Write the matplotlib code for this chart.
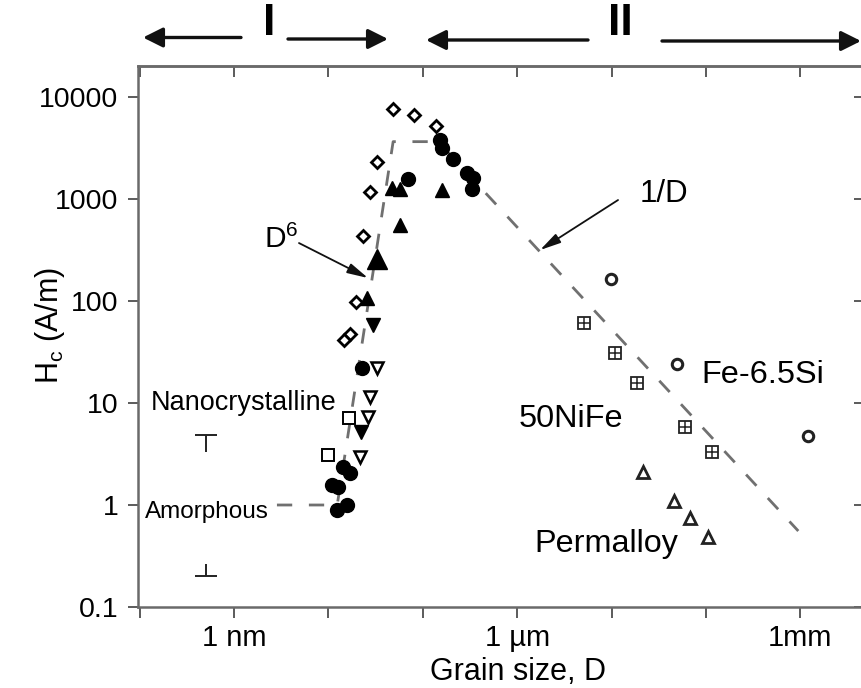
import matplotlib
matplotlib.use('Agg')
import matplotlib.pyplot as plt
from matplotlib.ticker import FixedLocator, NullLocator, FixedFormatter, NullFormatter

plt.rcParams['font.family'] = ['Liberation Sans', 'DejaVu Sans']
plt.rcParams['mathtext.fontset'] = 'custom'
plt.rcParams['mathtext.rm'] = 'Liberation Sans'
plt.rcParams['mathtext.it'] = 'Liberation Sans:italic'
plt.rcParams['mathtext.bf'] = 'Liberation Sans:bold'
plt.rcParams['lines.scale_dashes'] = False

# ---------------- data: grain size D (nm), coercivity Hc (A/m) ----------------
diamond_D = [48.7, 81.3, 138, 32.5, 27.6, 23.4, 19.5, 16.9, 14.6]
diamond_Hc = [7570, 6660, 5200, 2320, 1180, 434, 98.5, 47.5, 41.5]

ftri_D = [47.2, 57.3, 158.6, 57.3, 25.5]
ftri_Hc = [1274, 1240, 1225, 556, 106]
bigtri_D = [32.5]
bigtri_Hc = [258]

finv_D = [29.9, 22.1]
finv_Hc = [58.2, 5.23]

oinv_D = [32.5, 27.6, 26.5, 21.6]
oinv_Hc = [21.9, 11.5, 7.34, 2.97]

osq_D = [16.5, 9.97]
osq_Hc = [7.18, 3.09]

fcirc_D = [22.5, 14.4, 16.9, 10.8, 12.7, 12.2, 15.6, 70.2, 152, 158.6, 210, 292, 343, 330]
fcirc_Hc = [21.9, 2.37, 2.05, 1.57, 1.51, 0.893, 1.0, 1560, 3790, 3140, 2470, 1790, 1600, 1245]

fesi_D = [9780, 48950, 1.21e6]
fesi_Hc = [163, 23.9, 4.75]

nife_D = [5100, 10870, 18720, 60000, 115000]
nife_Hc = [61.3, 30.7, 15.8, 5.78, 3.33]

perm_D = [21700, 45800, 67700, 105800]
perm_Hc = [2.12, 1.10, 0.741, 0.482]

amorph_D = [0.5]
amorph_hi = [4.9]
amorph_lo = [0.2]

trend_D = [2.85, 12.4, 48.5, 145, 9.5e5]
trend_Hc = [1, 1, 3650, 3650, 0.556]

xticks = [0.1, 1, 10, 100, 1e3, 1e4, 1e5, 1e6]
xticklabels = ['', '1 nm', '', '', '1 µm', '', '', '1mm']
yticks = [0.1, 1, 10, 100, 1000, 10000]
yticklabels = ['0.1', '1', '10', '100', '1000', '10000']

# ---------------- figure ----------------
W, H = 861, 688
fig = plt.figure(figsize=(W / 100, H / 100), dpi=100)
L, R, T, B = 138, 862, 66, 607
ax = fig.add_axes([L / W, (H - B) / H, (R - L) / W, (B - T) / H])
ax.set_xscale('log')
ax.set_yscale('log')
ppd_x, x1nm = 94.4, 234
ppd_y, y1 = 102.0, 505
ax.set_xlim(10 ** ((L - x1nm) / ppd_x), 10 ** ((R - x1nm) / ppd_x))
ax.set_ylim(10 ** ((y1 - B) / ppd_y), 10 ** ((y1 - T) / ppd_y))

spine_col = '#6a6a6a'
for s in ax.spines.values():
    s.set_color(spine_col)
    s.set_linewidth(1.8)

ax.xaxis.set_major_locator(FixedLocator(xticks))
ax.xaxis.set_major_formatter(FixedFormatter(xticklabels))
ax.xaxis.set_minor_locator(NullLocator())
ax.yaxis.set_major_locator(FixedLocator(yticks))
ax.yaxis.set_major_formatter(FixedFormatter(yticklabels))
ax.yaxis.set_minor_locator(NullLocator())
ax.tick_params(axis='x', direction='out', length=8, width=1.2, color='#404040',
               labelsize=21, pad=4)
ax.tick_params(axis='y', direction='out', length=7, width=1.2, color='#404040',
               labelsize=20.5, pad=7)

secx = ax.secondary_xaxis('top')
secx.xaxis.set_major_locator(FixedLocator(xticks))
secx.xaxis.set_minor_locator(NullLocator())
secx.xaxis.set_major_formatter(NullFormatter())
secx.tick_params(direction='in', length=8, width=1.2, color='#404040')
secx.spines['top'].set_color(spine_col)
secx.spines['top'].set_linewidth(1.8)

secy = ax.secondary_yaxis('right')
secy.yaxis.set_major_locator(FixedLocator(yticks))
secy.yaxis.set_minor_locator(NullLocator())
secy.yaxis.set_major_formatter(NullFormatter())
secy.tick_params(direction='in', length=6, width=1.2, color='#404040')

# trend line
ax.plot(trend_D, trend_Hc, color='#707070', lw=2.0, dashes=(11, 12), zorder=1)

# markers
k = 'black'
ax.plot(diamond_D, diamond_Hc, ls='none', marker='D', ms=6.5, mfc='white', mec=k, mew=2.0, zorder=3)
ax.plot(ftri_D, ftri_Hc, ls='none', marker='^', ms=10, mfc=k, mec=k, mew=1, zorder=3)
ax.plot(bigtri_D, bigtri_Hc, ls='none', marker='^', ms=15, mfc=k, mec=k, mew=1, zorder=3)
ax.plot(finv_D, finv_Hc, ls='none', marker='v', ms=10, mfc=k, mec=k, mew=1, zorder=3)
ax.plot(oinv_D, oinv_Hc, ls='none', marker='v', ms=8.5, mfc='white', mec=k, mew=1.8, zorder=3)
ax.plot(osq_D, osq_Hc, ls='none', marker='s', ms=8, mfc='white', mec=k, mew=1.4, zorder=3)
ax.plot(fcirc_D, fcirc_Hc, ls='none', marker='o', ms=10, mfc=k, mec=k, mew=1, zorder=3)
ax.plot(fesi_D, fesi_Hc, ls='none', marker='o', ms=7.5, mfc='white', mec='#222222', mew=2.2, zorder=3)
ax.plot(nife_D, nife_Hc, ls='none', marker='s', ms=8, mfc='white', mec='#222222', mew=1.3, zorder=3)
ax.plot(nife_D, nife_Hc, ls='none', marker='+', ms=8, mec='#222222', mew=1.1, zorder=4)
ax.plot(perm_D, perm_Hc, ls='none', marker='^', ms=9, mfc='white', mec='#222222', mew=2.0, zorder=3)

# amorphous range bars
ax.plot(amorph_D, amorph_hi, ls='none', marker='_', ms=16, mec='#222222', mew=1.4)
ax.plot(amorph_D, amorph_hi, ls='none', marker=3, ms=12, mec='#222222', mew=1.4)
ax.plot(amorph_D, amorph_lo, ls='none', marker='_', ms=16, mec='#222222', mew=1.4)
ax.plot(amorph_D, amorph_lo, ls='none', marker=2, ms=9, mec='#222222', mew=1.4)

# annotation arrows
arr = dict(arrowstyle='-|>,head_length=0.9,head_width=0.22', color='#111111', lw=1.3,
           shrinkA=0, shrinkB=0, mutation_scale=14)
ax.annotate('', xy=(26.3, 168), xytext=(4.88, 370), arrowprops=arr)
ax.annotate('', xy=(1745, 316), xytext=(11700, 977), arrowprops=arr)

def ftext(x, y, s, **kw):
    fig.text(x / W, 1 - y / H, s, **kw)

ftext(264, 248, r'D$^\mathregular{6}$', fontsize=21.5, ha='left', va='baseline')
ftext(640, 201.5, '1/D', fontsize=22.5, ha='left', va='baseline')
ftext(150.5, 410, 'Nanocrystalline', fontsize=19.5, ha='left', va='baseline')
ftext(145, 518, 'Amorphous', fontsize=17.5, ha='left', va='baseline')
ftext(519, 427, '50NiFe', fontsize=23.4, ha='left', va='baseline')
ftext(701.5, 383, 'Fe-6.5Si', fontsize=23.4, ha='left', va='baseline')
ftext(534, 552, 'Permalloy', fontsize=23.3, ha='left', va='baseline')

# axis labels
ftext(518, 680, 'Grain size, D', fontsize=22, ha='center', va='baseline')
ftext(50, 325, r'H$_\mathregular{c}$ (A/m)', fontsize=22, ha='center', va='center', rotation=90)

# region arrows at top
tarr = dict(arrowstyle='-|>,head_length=0.6,head_width=0.3', color='#111111', lw=2.4,
            shrinkA=0, shrinkB=0, mutation_scale=20)
for (xa, ya, xb, yb) in [(241, 37.5, 143, 37.5), (288, 39, 388, 39),
                          (588, 40, 426, 40), (662, 41, 861, 41)]:
    fig.add_artist(matplotlib.patches.FancyArrowPatch((xa, H - ya), (xb, H - yb),
                   transform=None, **tarr))
ftext(269, 35, 'I', fontsize=32, fontweight='bold', ha='center', va='baseline')
ftext(620.5, 35, 'II', fontsize=32, fontweight='bold', ha='center', va='baseline')

fig.savefig('out.png', dpi=100)
